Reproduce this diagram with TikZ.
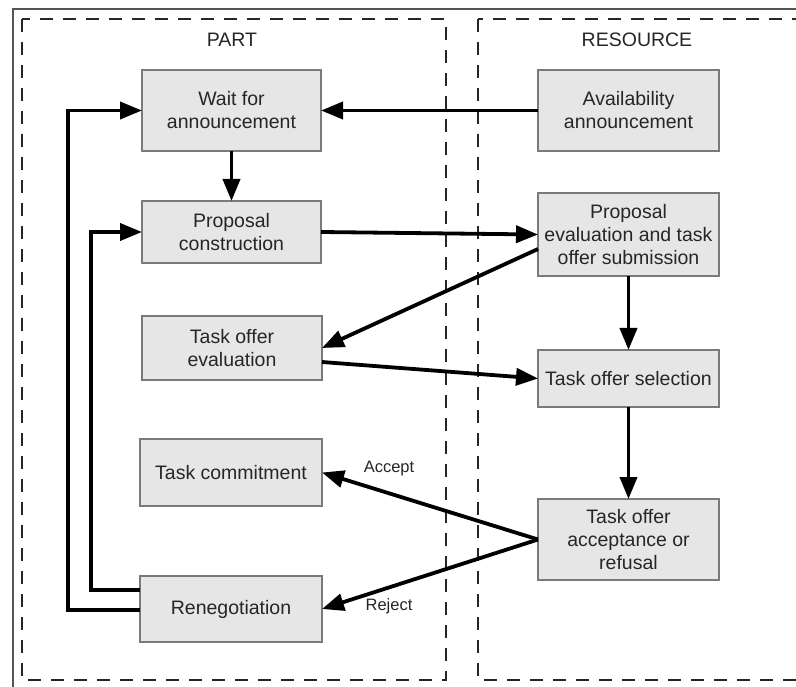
\documentclass[tikz,border=0pt]{standalone}
\usepackage{fontspec}
\setmainfont{Liberation Sans}
\usetikzlibrary{arrows.meta,calc}

\definecolor{boxfill}{HTML}{E6E6E6}
\definecolor{boxline}{HTML}{7A7A7A}
\definecolor{txt}{HTML}{262626}
\definecolor{frameline}{HTML}{555555}

\tikzset{
  stepbox/.style={draw=boxline, fill=boxfill, line width=1.4pt, align=center,
    inner sep=2pt, outer sep=0pt, text=txt,
    font=\fontsize{19.5}{23}\selectfont},
  flow/.style={line width=3.8pt, draw=black,
    -{Triangle[length=22pt,width=17pt]}},
  lane/.style={draw=black!85, line width=2.6pt, dash pattern=on 13pt off 10pt},
  lanetitle/.style={text=txt, font=\fontsize{19.5}{23}\selectfont},
  edgelabel/.style={text=txt, font=\fontsize{16.5}{19}\selectfont}
}

\begin{document}
\begin{tikzpicture}[x=1pt,y=-1pt]
  \useasboundingbox (0,0) rectangle (796,687);
  \clip (0,0) rectangle (796,687);
  \fill[white] (0,0) rectangle (796,687);

  % outer frame (top and left edges)
  \draw[frameline, line width=1.2pt] (800,9) -- (13,9) -- (13,690);

  % swim lanes
  \draw[lane] (22,19) rectangle (446,680);
  \draw[lane] (478,19) rectangle (820,680);
  \node[lanetitle] (parttitle) at (232,40) {PART};
  \node[lanetitle] (restitle) at (637,40) {RESOURCE};

  % PART steps
  \node[stepbox, minimum width=179pt, minimum height=81pt] (wait) at (231.5,110.5) {Wait for\\announcement};
  \node[stepbox, minimum width=179pt, minimum height=62pt] (pcon) at (231.5,232) {Proposal\\construction};
  \node[stepbox, minimum width=180pt, minimum height=64pt] (toe) at (232,348) {Task offer\\evaluation};
  \node[stepbox, minimum width=182pt, minimum height=67pt] (tcom) at (231,472.5) {Task commitment};
  \node[stepbox, minimum width=182pt, minimum height=66pt] (reneg) at (231,609) {Renegotiation};

  % RESOURCE steps
  \node[stepbox, minimum width=181pt, minimum height=81pt] (avail) at (628.5,110.5) {Availability\\announcement};
  \node[stepbox, minimum width=181pt, minimum height=83pt] (peval) at (628.5,234.5) {Proposal\\evaluation and task\\offer submission};
  \node[stepbox, minimum width=181pt, minimum height=57pt] (tsel) at (628.5,378.5) {Task offer selection};
  \node[stepbox, minimum width=181pt, minimum height=81pt] (tacc) at (628.5,539.5) {Task offer\\acceptance or\\refusal};

  % message flow
  \draw[flow] (avail.west) -- (wait.east);
  \draw[flow] (wait.south) -- (pcon.north);
  \draw[flow] (pcon.east) -- (peval.west);
  \draw[flow] ($(peval.west)+(0,14.5)$) -- (toe.east);
  \draw[flow] ($(toe.east)+(0,14)$) -- (tsel.west);
  \draw[flow] (peval.south) -- (tsel.north);
  \draw[flow] (tsel.south) -- (tacc.north);
  \draw[flow] (tacc.west) -- (tcom.east);
  \draw[flow] (tacc.west) -- (reneg.east);
  \node[edgelabel] (acceptlbl) at (389,469) {Accept};
  \node[edgelabel] (rejectlbl) at (389,606) {Reject};

  % renegotiation loops
  \draw[flow] ($(reneg.west)+(0,-19)$) -- ++(-49,0) |- (pcon.west);
  \draw[flow] ($(reneg.west)+(0,1)$) -- ++(-72,0) |- (wait.west);
\end{tikzpicture}
\end{document}
